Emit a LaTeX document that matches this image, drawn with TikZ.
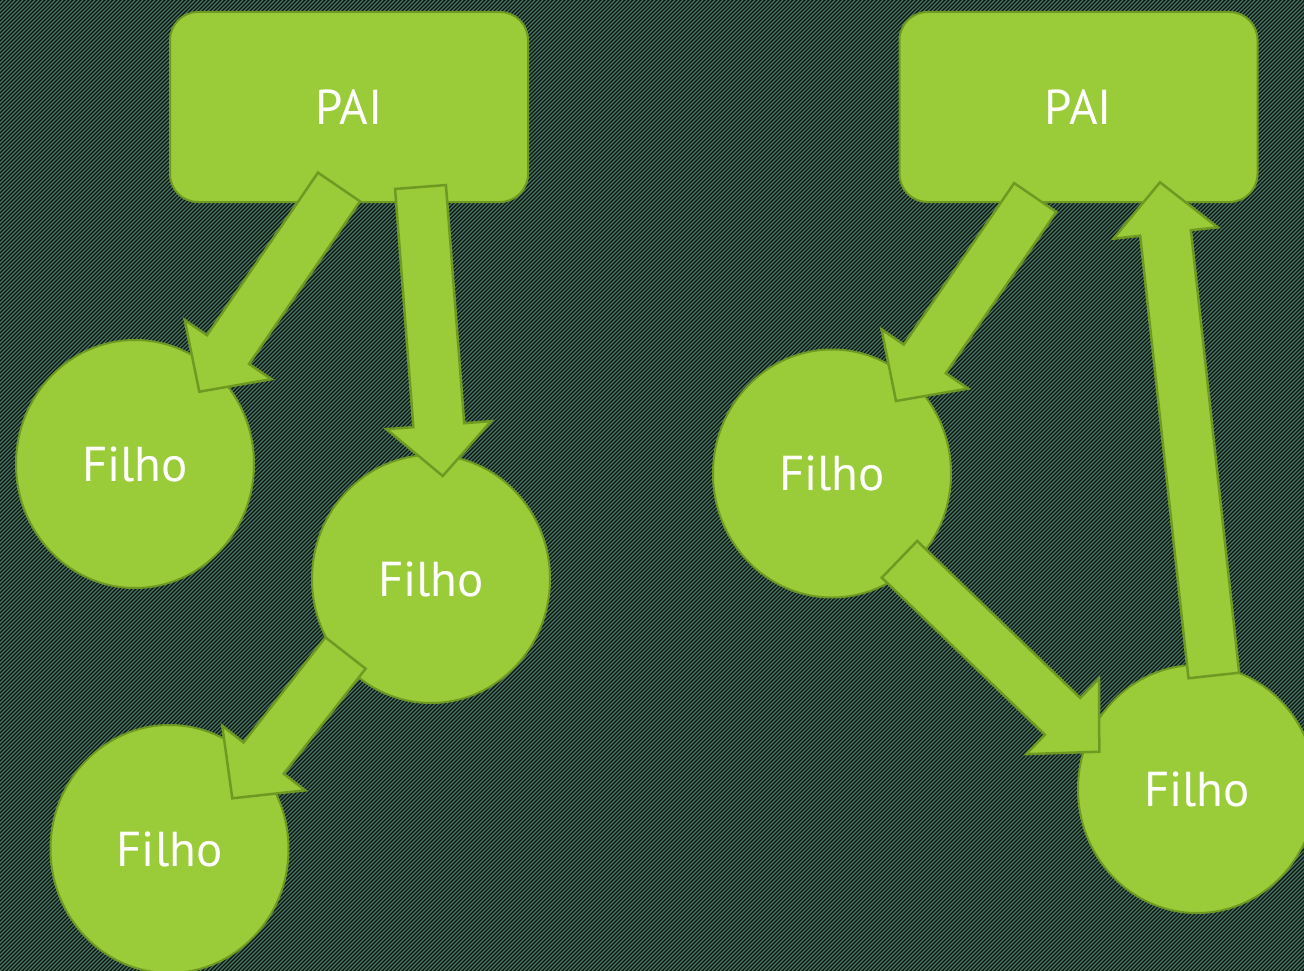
\documentclass[tikz,border=0pt]{standalone}
\usepackage{fontspec}
\setmainfont{PT Sans}
\usetikzlibrary{calc,shapes.geometric}
\definecolor{bgbase}{HTML}{0C140F}
\definecolor{bgline}{HTML}{4C7664}
\definecolor{leaf}{HTML}{9ACB38}
\definecolor{leafedge}{HTML}{6E9A23}
\tikzset{
  paibox/.style={draw=leafedge, line width=2pt, fill=leaf, rounded corners=28pt,
    minimum width=358pt, minimum height=190pt, inner sep=0pt, text=white,
    font=\fontsize{49pt}{52pt}\selectfont},
  filhobox/.style={ellipse, draw=leafedge, line width=2pt, fill=leaf,
    minimum width=238pt, minimum height=248pt, inner sep=0pt, text=white,
    font=\fontsize{49pt}{52pt}\selectfont},
  bigarrow/.style={draw=leafedge, line width=2.5pt, fill=leaf, line join=miter},
  stripe/.style={bgline, line width=1.35pt},
}
% #1 tail coordinate, #2 tip coordinate
\newcommand\barrowdraw[2]{%
  \coordinate (ba-c) at ($(#2)!51pt!(#1)$);
  \draw[bigarrow] ($(#1)!25.5pt!90:(#2)$) -- ($(ba-c)!25.5pt!-90:(#1)$)
    -- ($(ba-c)!52.5pt!-90:(#1)$) -- (#2) -- ($(ba-c)!52.5pt!90:(#1)$)
    -- ($(ba-c)!25.5pt!90:(#1)$) -- ($(#1)!25.5pt!-90:(#2)$) -- cycle;}
\begin{document}
\begin{tikzpicture}[x=1pt,y=-1pt]
\useasboundingbox (0,0) rectangle (1304,971);
\fill[bgbase] (0,0) rectangle (1304,971);
\begin{scope}
  \clip (0,0) rectangle (1304,971);
  \foreach \i in {-972,-968,...,1304} \draw[stripe] (\i,971) -- (\i+971,0);
\end{scope}

% left tree
\node[paibox] (pai1) at (349,107) {PAI};
\node[filhobox] (f1) at (135,464) {Filho};
\node[filhobox] (f2) at (431,579) {Filho};
\node[filhobox] (f3) at (169.5,849) {Filho};
% right tree
\node[paibox] (pai2) at (1078.5,107) {PAI};
\node[filhobox] (f4) at (832,473.5) {Filho};
\node[filhobox] (f5) at (1197,789) {Filho};

% arrow ends
\coordinate (a1s) at (339,187);    \coordinate (a1e) at (199.3,391.7);
\coordinate (a2s) at (420.5,187);  \coordinate (a2e) at (442.7,476);
\coordinate (a3s) at (345.5,653);  \coordinate (a3e) at (232.3,798.3);
\coordinate (a4s) at (1035.2,197.5); \coordinate (a4e) at (896,401);
\coordinate (a5s) at (899.5,559.3);  \coordinate (a5e) at (1099.3,751.7);
\coordinate (a6s) at (1213.8,675.5); \coordinate (a6e) at (1160,182.3);

\barrowdraw{a1s}{a1e}
\barrowdraw{a2s}{a2e}
\barrowdraw{a3s}{a3e}
\barrowdraw{a4s}{a4e}
\barrowdraw{a5s}{a5e}
\barrowdraw{a6s}{a6e}
\end{tikzpicture}
\end{document}
